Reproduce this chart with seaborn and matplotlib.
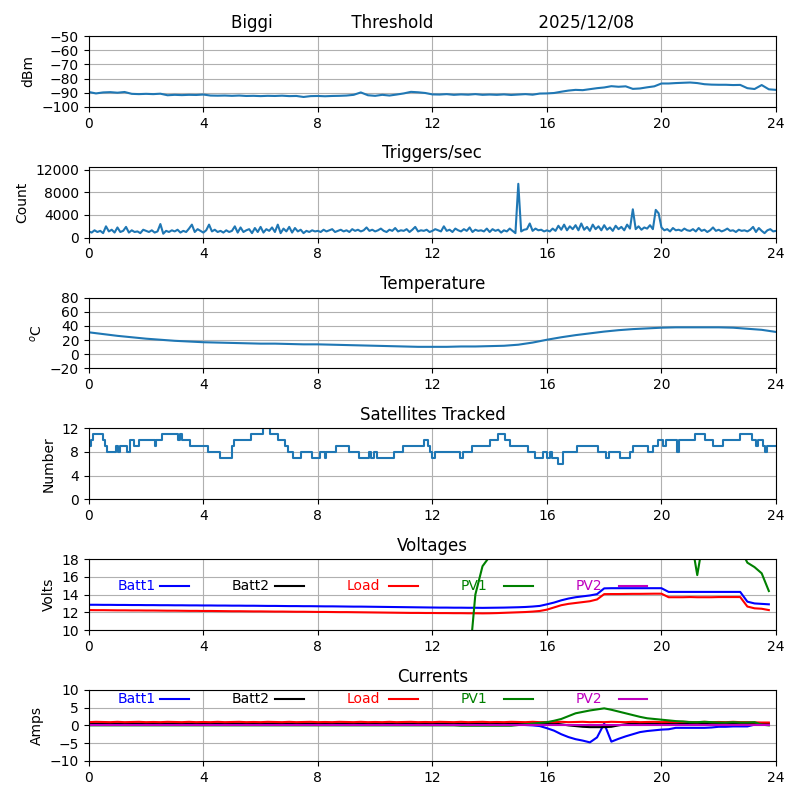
import numpy as np
import seaborn as sns
import matplotlib
matplotlib.use("Agg")
import matplotlib.pyplot as plt

# ---- data ----
# signal level, every 15 min
sig_hours = [i * 0.25 for i in range(97)]
sig_dbm = [-89.5, -90.5, -89.8, -89.6, -90.0, -89.5, -90.8, -91.0, -90.8, -91.0, -90.7, -91.8,
           -91.5, -91.7, -91.5, -91.6, -91.3, -92.0, -92.1, -92.0, -92.2, -92.0, -92.3, -92.2,
           -92.4, -92.2, -92.3, -92.1, -92.4, -92.3, -93.0, -92.4, -92.3, -92.5, -92.3, -92.2,
           -92.0, -91.5, -89.8, -91.8, -92.2, -91.5, -92.0, -91.3, -90.5, -89.4, -89.7, -90.2,
           -91.2, -91.3, -91.0, -91.5, -91.2, -91.4, -91.0, -91.5, -91.3, -91.5, -91.2, -91.6,
           -91.3, -91.0, -91.4, -90.6, -90.5, -90.2, -89.3, -88.5, -88.0, -88.2, -87.5, -86.8,
           -86.3, -85.4, -85.8, -85.5, -87.3, -87.0, -86.2, -85.5, -83.5, -83.5, -83.2, -83.0,
           -82.8, -83.2, -84.0, -84.3, -84.4, -84.4, -84.6, -84.5, -86.8, -87.4, -84.6, -87.6,
           -88.0]

# triggers per second, every 6 min
trig_hours = [i * 0.1 for i in range(241)]
trig_count = [
    1100, 900, 1300, 1000, 1200, 800, 2000, 1100, 1400, 900,
    1800, 1000, 1200, 1900, 900, 1300, 1000, 1100, 800, 1400,
    1200, 1000, 1300, 900, 1100, 2400, 700, 1200, 1000, 1300,
    1100, 1400, 900, 1200, 1000, 1600, 2300, 1000, 1500, 1200,
    900, 1300, 2300, 1100, 1400, 1000, 1200, 900, 1300, 1000,
    1200, 2000, 900, 1800, 1000, 1300, 1500, 800, 1700, 1000,
    1900, 900, 1500, 1200, 1800, 1000, 2300, 800, 1600, 1100,
    1900, 900, 1700, 1100, 1400, 800, 1200, 1000, 1300, 1100,
    1200, 1000, 1400, 1100, 1300, 1500, 1000, 1200, 1400, 1100,
    1300, 1000, 1500, 1200, 1400, 1100, 1300, 1800, 1200, 1400,
    1100, 1300, 1600, 1200, 1000, 1400, 1200, 1700, 1100, 1300,
    1200, 1500, 1000, 1400, 1900, 1100, 1300, 1200, 1400, 1000,
    1200, 1500, 1300, 1100, 2000, 1200, 1400, 1000, 1600, 1300,
    1100, 1500, 1200, 1800, 1000, 1400, 1200, 1300, 1100, 1600,
    1000, 1500, 1200, 1400, 900, 1300, 1100, 1600, 1200, 800,
    9500, 1100, 1400, 1500, 2500, 1200, 1600, 1300, 1400, 1100,
    1300, 1100, 1600, 1200, 2100, 1400, 2300, 1300, 2000, 1500,
    2200, 1300, 2500, 1400, 1900, 1200, 2300, 1500, 2000, 1300,
    2200, 1400, 1800, 1200, 2100, 1500, 1900, 1300, 2300, 1600,
    5000, 1500, 2000, 1400, 1800, 1600, 2200, 1500, 4900, 4300,
    1800, 1300, 1500, 1100, 1700, 1300, 1400, 1200, 1600, 1300,
    1200, 1500, 1100, 1700, 1200, 1400, 1000, 1300, 1800, 1200,
    1400, 1100, 1300, 1600, 1200, 1300, 1000, 1400, 1200, 1300,
    1100, 1400, 1900, 1000, 1700, 1200, 800, 1300, 1500, 1100,
    1200]

# temperature, every 30 min
temp_hours = [i * 0.5 for i in range(49)]
temp_c = [31.0, 28.5, 26.0, 24.0, 22.0, 20.5, 19.0, 18.0, 17.0, 16.5, 16.0, 15.5,
          15.0, 15.0, 14.5, 14.0, 14.0, 13.5, 13.0, 12.5, 12.0, 11.5, 11.0, 10.5,
          10.5, 10.5, 11.0, 11.0, 11.5, 12.0, 13.5, 16.5, 20.5, 24.0, 27.0, 29.5,
          32.0, 34.0, 35.5, 36.5, 37.5, 38.0, 38.0, 38.0, 38.0, 37.5, 36.0, 34.5,
          31.5]

# satellites tracked (value holds until next change)
sat_hours = [0.0, 0.08, 0.15, 0.5, 0.56, 0.63, 0.94, 1.02, 1.08, 1.32, 1.43, 1.58, 1.75,
             2.3, 2.36, 2.54, 3.12, 3.2, 3.26, 3.53, 4.17, 4.58, 5.0, 5.08, 5.68, 6.09,
             6.32, 6.61, 6.85, 6.96, 7.14, 7.4, 7.78, 8.07, 8.24, 8.3, 8.65, 9.09, 9.44,
             9.79, 9.86, 9.95, 10.05, 10.67, 10.96, 11.72, 11.83, 11.93, 12.0, 12.1,
             12.96, 13.08, 13.4, 14.01, 14.3, 14.53, 14.71, 15.35, 15.58, 15.87, 15.99,
             16.1, 16.17, 16.4, 16.57, 17.04, 17.79, 18.08, 18.16, 18.55, 18.9, 19.02,
             19.54, 19.71, 19.89, 20.06, 20.16, 20.55, 20.62, 21.17, 21.52, 21.81, 22.16,
             22.74, 23.15, 23.3, 23.36, 23.56, 23.63, 23.68, 24.0]
sat_count = [9, 10, 11, 10, 9, 8, 9, 8, 9, 8, 10, 9, 10,
             9, 10, 11, 10, 11, 10, 9, 8, 7, 9, 10, 11, 12,
             11, 10, 9, 8, 7, 8, 7, 8, 7, 8, 9, 8, 7,
             8, 7, 8, 7, 8, 9, 10, 9, 8, 7, 8,
             7, 8, 9, 10, 11, 10, 9, 8, 7, 8, 7,
             8, 7, 6, 8, 9, 8, 7, 8, 7, 8, 9,
             8, 9, 10, 9, 10, 8, 10, 11, 10, 9, 10,
             11, 10, 9, 10, 9, 8, 9, 9]

# power system, every 15 min
pwr_hours = [i * 0.25 for i in range(96)]
names = ["Batt1", "Batt2", "Load", "PV1", "PV2"]
colors = ["b", "k", "r", "g", "m"]

batt1_v = [12.85, 12.85, 12.84, 12.84, 12.83, 12.83, 12.82, 12.82, 12.81, 12.81, 12.80, 12.80,
           12.79, 12.79, 12.78, 12.78, 12.77, 12.77, 12.76, 12.76, 12.75, 12.75, 12.74, 12.74,
           12.73, 12.72, 12.72, 12.71, 12.70, 12.70, 12.69, 12.69, 12.68, 12.67, 12.67, 12.66,
           12.65, 12.64, 12.64, 12.63, 12.62, 12.61, 12.60, 12.59, 12.58, 12.57, 12.56, 12.55,
           12.54, 12.53, 12.53, 12.52, 12.52, 12.51, 12.51, 12.50, 12.51, 12.52, 12.53, 12.55,
           12.57, 12.60, 12.65, 12.72, 12.90, 13.10, 13.35, 13.55, 13.70, 13.80, 13.90, 14.05,
           14.70, 14.72, 14.72, 14.72, 14.72, 14.72, 14.72, 14.72, 14.72, 14.30, 14.30, 14.30,
           14.30, 14.30, 14.30, 14.30, 14.30, 14.30, 14.30, 14.30, 13.20, 13.00, 12.95, 12.90]
batt2_v = [0.0] * 96
load_v = [12.25, 12.24, 12.24, 12.23, 12.22, 12.22, 12.21, 12.21, 12.20, 12.20, 12.19, 12.18,
          12.18, 12.17, 12.16, 12.16, 12.15, 12.15, 12.14, 12.13, 12.12, 12.12, 12.11, 12.10,
          12.10, 12.09, 12.08, 12.08, 12.07, 12.06, 12.06, 12.05, 12.04, 12.04, 12.03, 12.02,
          12.02, 12.01, 12.00, 11.99, 11.98, 11.97, 11.96, 11.95, 11.94, 11.93, 11.93, 11.92,
          11.92, 11.91, 11.91, 11.90, 11.90, 11.89, 11.89, 11.88, 11.89, 11.91, 11.94, 11.97,
          12.00, 12.03, 12.08, 12.15, 12.30, 12.55, 12.80, 12.95, 13.05, 13.15, 13.25, 13.45,
          14.05, 14.06, 14.06, 14.07, 14.08, 14.08, 14.09, 14.10, 14.10, 13.70, 13.70, 13.70,
          13.72, 13.70, 13.70, 13.70, 13.72, 13.72, 13.72, 13.72, 12.65, 12.45, 12.40, 12.25]
pv1_v = [0.0] * 53 + [5.0, 14.0, 17.2,
         18.3, 19.2, 19.8, 20.3, 20.5, 20.6, 20.7, 20.8, 20.8, 20.9, 20.9, 21.0,
         21.0, 21.0, 21.0, 21.0, 21.0, 21.0, 21.0, 21.0, 21.0, 21.0, 21.0, 21.0,
         21.0, 21.0, 21.0, 21.0, 21.0, 16.2, 21.0, 20.8, 20.6, 20.3, 20.0, 19.2,
         17.6, 17.1, 16.4, 14.4]
pv2_v = [0.0] * 96

batt1_i = [0.2] * 60 + [0.2, 0.1, 0.0, -0.2,
           -0.8, -1.5, -2.5, -3.3, -3.9, -4.3, -4.8, -3.4, 0.5, -4.6, -3.8, -3.1,
           -2.5, -1.9, -1.6, -1.4, -1.2, -1.1, -0.7, -0.7, -0.7, -0.7, -0.7, -0.6,
           -0.4, -0.4, -0.3, -0.3, -0.3, 0.2, 0.2, 0.2]
batt2_i = [0.5] * 66 + [0.3, 0.0, -0.2, -0.4, -0.5, -0.5, -0.5, -0.4, 0.0, 0.3] + [0.5] * 20
load_i = [0.9, 1.0, 0.95, 0.9, 1.0, 0.9, 0.95, 1.0, 0.9, 0.95, 0.9, 1.0,
          0.95, 0.9, 1.0, 0.9, 0.95, 0.9, 1.0, 0.9, 0.95, 1.0, 0.9, 0.95,
          0.9, 1.0, 0.95, 0.9, 1.0, 0.9, 0.95, 1.0, 0.9, 0.95, 0.9, 1.0,
          0.95, 0.9, 1.0, 0.9, 0.95, 0.9, 1.0, 0.9, 0.95, 1.0, 0.9, 0.95,
          0.9, 1.0, 0.95, 0.9, 1.0, 0.9, 0.95, 1.0, 0.9, 0.95, 0.9, 1.0,
          0.95, 0.9, 1.0, 0.9, 0.95, 0.9, 1.0, 0.9, 0.95, 1.0, 0.9, 0.95,
          0.9, 1.0, 0.95, 0.9, 1.0, 0.9, 0.95, 1.0, 0.9, 0.95, 0.9, 1.0,
          0.95, 0.9, 1.0, 0.9, 0.95, 0.9, 1.0, 0.9, 0.9, 0.85, 0.8, 0.8]
pv1_i = [0.0] * 52 + [-0.1] * 8 + [0.1, 0.3, 0.5, 0.7,
         0.9, 1.3, 1.8, 2.6, 3.4, 3.8, 4.2, 4.5, 4.8, 4.4, 3.9, 3.4,
         2.9, 2.4, 2.0, 1.8, 1.6, 1.4, 1.2, 1.1, 0.9, 0.9, 1.0, 0.9,
         0.8, 0.8, 0.9, 0.8, 0.8, 0.9, 0.2, 0.0]
pv2_i = [0.15] * 96

volts = [batt1_v, batt2_v, load_v, pv1_v, pv2_v]
amps = [batt1_i, batt2_i, load_i, pv1_i, pv2_i]

# ---- figure ----
fig, axes = plt.subplots(6, 1, figsize=(8, 8), dpi=100)
fig.subplots_adjust(left=0.111, right=0.97, top=0.955, bottom=0.049, hspace=0.845)

ax = axes[0]
sns.lineplot(x=sig_hours, y=sig_dbm, ax=ax, lw=1.5)
ax.set_title("Biggi" + " " * 15 + "Threshold" + " " * 20 + "2025/12/08")
ax.set_ylabel("dBm")
ax.set_ylim(-100, -50)
ax.set_yticks(range(-100, -49, 10))

ax = axes[1]
sns.lineplot(x=trig_hours, y=trig_count, ax=ax, lw=1.5)
ax.set_title("Triggers/sec")
ax.set_ylabel("Count")
ax.set_ylim(0, 12500)
ax.set_yticks([0, 4000, 8000, 12000])

ax = axes[2]
sns.lineplot(x=temp_hours, y=temp_c, ax=ax, lw=1.5)
ax.set_title("Temperature")
ax.set_ylabel(r"$^o$C")
ax.set_ylim(-20, 80)
ax.set_yticks(range(-20, 81, 20))

ax = axes[3]
sns.lineplot(x=sat_hours, y=sat_count, ax=ax, lw=1.5, drawstyle="steps-post")
ax.set_title("Satellites Tracked")
ax.set_ylabel("Number")
ax.set_ylim(0, 12)
ax.set_yticks([0, 4, 8, 12])

# voltages and currents with the little inline key
for ax, series, title, ylab, ylim, ticks, key_y in [
        (axes[4], volts, "Voltages", "Volts", (10, 18), range(10, 19, 2), 15),
        (axes[5], amps, "Currents", "Amps", (-10, 10), range(-10, 11, 5), 7.5)]:
    for i, (vals, c) in enumerate(zip(series, colors)):
        sns.lineplot(x=pwr_hours, y=vals, ax=ax, color=c, lw=1.5)
        ax.text(1 + 4 * i, key_y, names[i], color=c, va="center", fontsize=10)
        ax.plot([2.5 + 4 * i, 3.5 + 4 * i], [key_y, key_y], color=c, lw=1.5)
    ax.set_title(title)
    ax.set_ylabel(ylab)
    ax.set_ylim(*ylim)
    ax.set_yticks(list(ticks))

for ax in axes:
    ax.set_xlim(0, 24)
    ax.set_xticks(range(0, 25, 4))
    ax.grid(True)

fig.savefig("out.png")
